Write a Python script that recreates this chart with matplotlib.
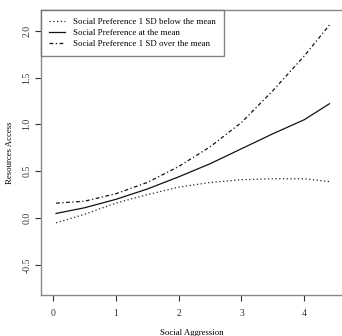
import matplotlib
matplotlib.use("Agg")
import matplotlib.pyplot as plt

x_vals = [0.05, 0.5, 1.0, 1.5, 2.0, 2.5, 3.0, 3.5, 4.0, 4.4]
below_mean = [-0.05, 0.04, 0.16, 0.25, 0.33, 0.38, 0.41, 0.42, 0.42, 0.39]
at_mean = [0.05, 0.11, 0.20, 0.31, 0.44, 0.58, 0.74, 0.90, 1.05, 1.22]
over_mean = [0.16, 0.18, 0.26, 0.38, 0.55, 0.76, 1.02, 1.36, 1.73, 2.06]
labels = ["Social Preference 1 SD below the mean",
          "Social Preference at the mean",
          "Social Preference 1 SD over the mean"]
x_ticks = [0, 1, 2, 3, 4]
y_ticks = [-0.5, 0.0, 0.5, 1.0, 1.5, 2.0]

plt.rcParams['font.family'] = ['Liberation Serif', 'DejaVu Serif']
fig = plt.figure(figsize=(3.42, 3.36), dpi=100)
ax = fig.add_axes([41/342, 1-295/336, 1-41/342, 285/336])

ax.plot(x_vals, below_mean, color='#222222', lw=0.9, linestyle=(0, (1, 2)), label=labels[0])
ax.plot(x_vals, at_mean, color='#111111', lw=0.9, linestyle='-', label=labels[1])
ax.plot(x_vals, over_mean, color='#111111', lw=0.9, linestyle=(0, (3, 2, 1, 2)), label=labels[2])

ax.set_xlim(-0.19, 4.6)
ax.set_ylim(-0.82, 2.22)
ax.set_xticks(x_ticks)
ax.set_xticklabels([str(v) for v in x_ticks], fontsize=7)
ax.set_yticks(y_ticks)
ax.set_yticklabels([f"{v:.1f}" for v in y_ticks], fontsize=7, rotation=90, va='center')
ax.tick_params(axis='x', direction='out', length=4, width=0.8, colors='#333333', pad=6)
ax.tick_params(axis='y', direction='out', length=4, width=0.8, colors='#333333', pad=3)

for s in ['left', 'bottom', 'top']:
    ax.spines[s].set_color('#888888')
    ax.spines[s].set_linewidth(1.0)
ax.spines['right'].set_visible(False)

ax.set_xlabel("Social Aggression", fontsize=6.3, labelpad=8)
ax.set_ylabel("Resources Access", fontsize=6.3, labelpad=6)

leg = ax.legend(loc='upper left', bbox_to_anchor=(0, 1), fontsize=6.4, frameon=True,
                fancybox=False, borderaxespad=0, handlelength=1.8, handletextpad=0.9,
                labelspacing=0.32, borderpad=0.9)
leg.get_frame().set_edgecolor('#666666')
leg.get_frame().set_linewidth(1.0)

fig.savefig("out.png", dpi=100)
